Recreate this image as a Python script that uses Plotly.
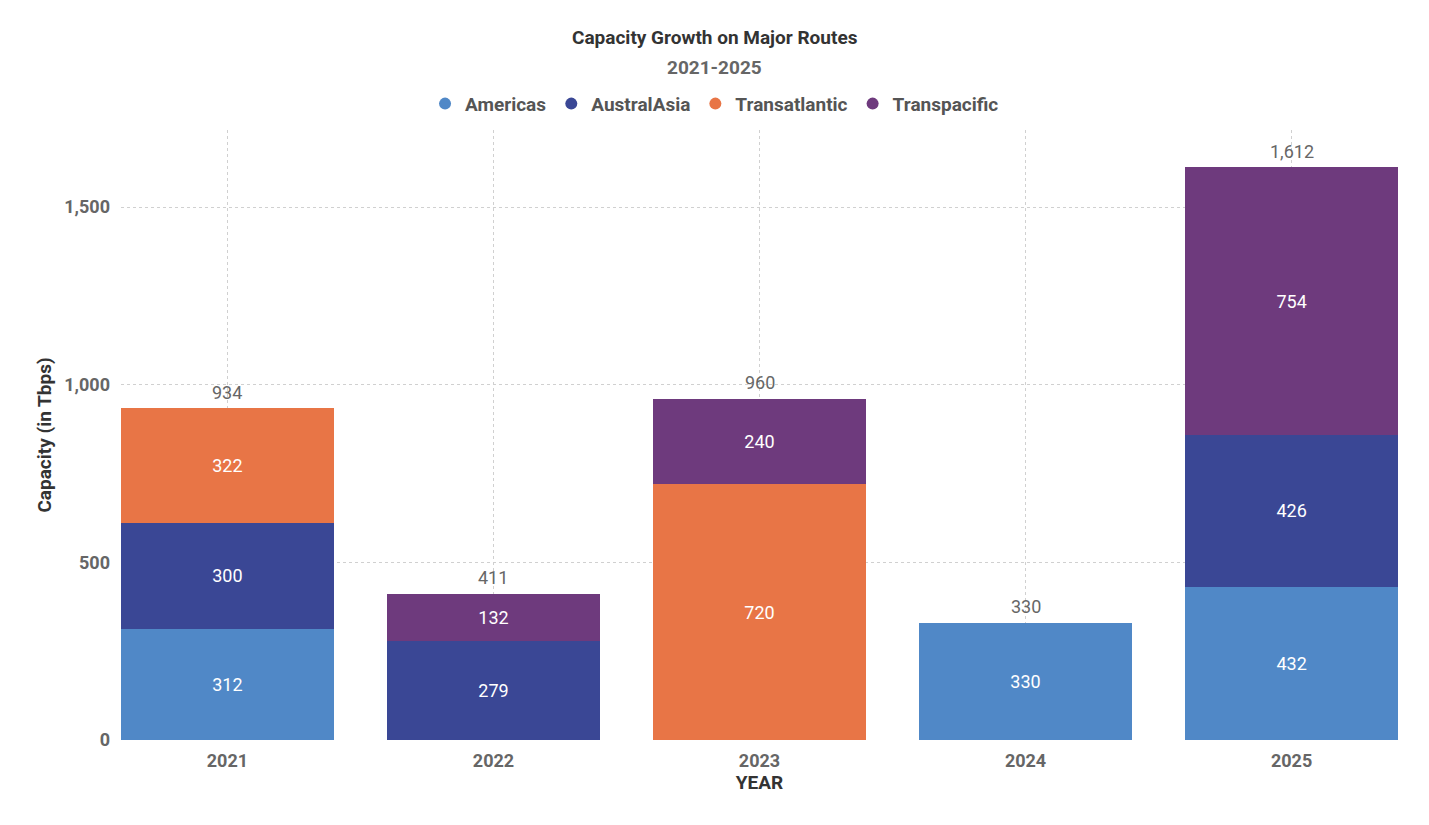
import plotly.graph_objects as go

years = ["2021", "2022", "2023", "2024", "2025"]
americas = [312, None, None, 330, 432]
australasia = [300, 279, None, None, 426]
transatlantic = [322, None, 720, None, None]
transpacific = [None, 132, 240, None, 754]

series = [
    ("Americas", americas, "#5088C7"),
    ("AustralAsia", australasia, "#3A4795"),
    ("Transatlantic", transatlantic, "#E87546"),
    ("Transpacific", transpacific, "#6E3A7D"),
]

totals = [sum(v[i] or 0 for _, v, _ in series) for i in range(len(years))]

FONT = "Roboto"
CX = 0.4648
fig = go.Figure()
for name, vals, col in series:
    fig.add_trace(go.Bar(
        x=years, y=vals, name=name, marker_color=col, marker_line_width=0,
        texttemplate="%{y:,}", textposition="inside", insidetextanchor="middle",
        textangle=0, textfont=dict(color="white", size=18, family=FONT),
        showlegend=False, width=0.8,
    ))
    fig.add_trace(go.Scatter(
        x=[None], y=[None], mode="markers", name=name,
        marker=dict(symbol="circle", size=12, color=col), showlegend=True,
    ))

annotations = [
    dict(text="<b>Capacity Growth on Major Routes</b>", x=CX, xref="paper", y=1.151, yref="paper",
         showarrow=False, font=dict(size=19, color="#333333", family=FONT), yanchor="middle"),
    dict(text="<b>2021-2025</b>", x=CX, xref="paper", y=1.103, yref="paper",
         showarrow=False, font=dict(size=19, color="#666666", family=FONT), yanchor="middle"),
]
for i, t in enumerate(totals):
    annotations.append(dict(
        x=i, y=t, xref="x", yref="y", text=f"{t:,}", showarrow=False,
        yanchor="middle", yshift=16, font=dict(size=18, color="#666666", family=FONT),
    ))

fig.update_layout(
    barmode="stack",
    width=1421, height=817,
    margin=dict(l=113, r=31, t=122, b=85),
    plot_bgcolor="white", paper_bgcolor="white",
    font=dict(family=FONT, color="#666666"),
    showlegend=True,
    legend=dict(orientation="h", x=CX, xanchor="center", y=1.043, yanchor="middle",
                font=dict(size=19, color="#555555", family=FONT, weight="bold"),
                itemwidth=30, itemsizing="constant", tracegroupgap=0, traceorder="normal"),
    annotations=annotations,
)

fig.update_xaxes(
    type="category", range=[-0.4, 4.4],
    showgrid=True, gridcolor="#D0D0D0", griddash="dot", gridwidth=1,
    tickfont=dict(size=18, color="#666666", family=FONT, weight="bold"),
    title=dict(text="<b>YEAR</b>", font=dict(size=19, color="#333333", family=FONT), standoff=4),
    ticks="", showline=False, zeroline=False, ticklabelstandoff=8,
)
fig.update_yaxes(
    range=[0, 1717], tickvals=[0, 500, 1000, 1500], tickformat=",",
    showgrid=True, gridcolor="#D0D0D0", griddash="dot", gridwidth=1,
    tickfont=dict(size=18, color="#666666", family=FONT, weight="bold"),
    title=dict(text="<b>Capacity (in Tbps)</b>", font=dict(size=19, color="#333333", family=FONT), standoff=7),
    ticks="", showline=False, zeroline=False, ticklabelstandoff=10,
)

fig.write_html("out.html")
